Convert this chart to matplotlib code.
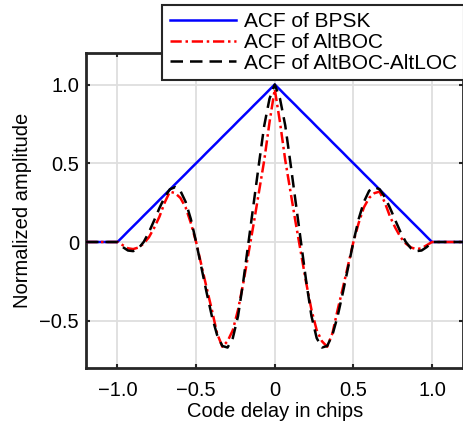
import numpy as np
import matplotlib
matplotlib.use("Agg")
import matplotlib.pyplot as plt

plt.rcParams['font.family'] = ['Liberation Sans', 'DejaVu Sans']

# code delay (chips), step 1/30 from -1 to 1, with flat tails to +-1.2
tau_half = [0, 1/30, 2/30, 3/30, 4/30, 5/30, 6/30, 7/30, 8/30, 9/30, 10/30,
            11/30, 12/30, 13/30, 14/30, 15/30, 16/30, 17/30, 18/30, 19/30, 20/30,
            21/30, 22/30, 23/30, 24/30, 25/30, 26/30, 27/30, 28/30, 29/30, 1.0]

# values for tau >= 0 (curves are symmetric)
bpsk_half = [1.0, 0.967, 0.933, 0.9, 0.867, 0.833, 0.8, 0.767, 0.733, 0.7, 0.667,
             0.633, 0.6, 0.567, 0.533, 0.5, 0.467, 0.433, 0.4, 0.367, 0.333,
             0.3, 0.267, 0.233, 0.2, 0.167, 0.133, 0.1, 0.067, 0.033, 0.0]
altboc_half = [0.97, 0.76, 0.52, 0.32, 0.12, -0.07, -0.26, -0.43, -0.56, -0.63, -0.665,
               -0.58, -0.43, -0.29, -0.145, 0.0, 0.12, 0.22, 0.28, 0.31, 0.32,
               0.25, 0.16, 0.09, 0.03, -0.01, -0.035, -0.045, -0.04, -0.02, 0.0]
altloc_half = [1.0, 0.91, 0.74, 0.50, 0.25, 0.0, -0.25, -0.47, -0.61, -0.67, -0.66,
               -0.59, -0.47, -0.32, -0.16, 0.0, 0.145, 0.255, 0.325, 0.348, 0.335,
               0.285, 0.215, 0.137, 0.062, 0.0, -0.041, -0.058, -0.054, -0.032, 0.0]

def full(vals, tail=0.0):
    # mirror the half curve and add the flat parts outside +-1 chip
    v = np.array(vals)
    return np.concatenate([[tail], v[::-1], v[1:], [tail]])

t = np.array(tau_half)
tau = np.concatenate([[-1.2], -t[::-1], t[1:], [1.2]])
acf_bpsk = full(bpsk_half)
acf_altboc = full(altboc_half)
acf_altloc = full(altloc_half)

fig = plt.figure(figsize=(4.64, 4.25), dpi=100)
ax = fig.add_axes([86/464, 1 - 368/425, 377.5/464, 315/425])

ax.plot(tau, acf_bpsk, color='#0000ff', lw=1.8, label='ACF of BPSK', zorder=3)
ax.plot(tau, acf_altboc, color='#ff0000', lw=1.8, linestyle=(0, (4.5, 1.5, 1, 1.5)),
        label='ACF of AltBOC', zorder=4)
ax.plot(tau, acf_altloc, color='black', lw=1.8, linestyle=(0, (5, 2.8)),
        label='ACF of AltBOC-AltLOC', zorder=5)

ax.set_xlim(-1.2, 1.2)
ax.set_ylim(-0.8, 1.2)
ax.set_xticks([-1.0, -0.5, 0, 0.5, 1.0])
ax.set_xticklabels(['\u22121.0', '\u22120.5', '0', '0.5', '1.0'])
ax.set_yticks([-0.5, 0, 0.5, 1.0])
ax.set_yticklabels(['\u22120.5', '0', '0.5', '1.0'])
ax.tick_params(direction='in', length=3, width=1.5, color='#262626',
               labelsize=14.5, top=True, right=True, pad=5)
ax.tick_params(axis='x', pad=9)
ax.grid(True, color='#dedede', lw=1.3)
ax.set_axisbelow(True)
for s in ax.spines.values():
    s.set_linewidth(2)
    s.set_color('#262626')

ax.set_xlabel('Code delay in chips', fontsize=14.5, labelpad=2)
ax.set_ylabel('Normalized amplitude', fontsize=14.5, labelpad=5)

leg = ax.legend(loc='upper right', bbox_to_anchor=(1.0, 1 - 5/425),
                bbox_transform=fig.transFigure, fontsize=15, frameon=True,
                fancybox=False, framealpha=1, edgecolor='#262626',
                handlelength=3.2, handletextpad=0.35, labelspacing=0.08,
                borderpad=0.35, borderaxespad=0)
leg.get_frame().set_linewidth(1.5)
leg.set_zorder(10)

fig.savefig('out.png', dpi=100)
